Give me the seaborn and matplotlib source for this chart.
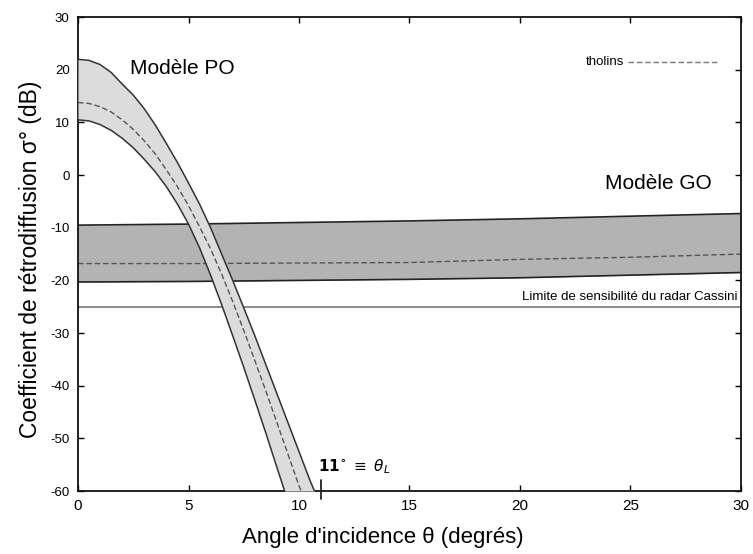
import numpy as np
import pandas as pd
import matplotlib
matplotlib.use("Agg")
import matplotlib.pyplot as plt
import seaborn as sns

# PO model band: incidence angle (degrees) -> backscatter (dB)
po_theta = [0, 0.5, 1, 1.5, 2, 2.5, 3, 3.5, 4, 4.5, 5, 5.5, 6, 6.5, 7, 7.5,
            8, 8.5, 9, 9.5, 10, 10.5, 10.7]
po_upper = [22.0, 21.8, 21.0, 19.5, 17.3, 15.2, 12.6, 9.5, 6.0, 2.4, -1.5, -5.5,
            -10.0, -15.0, -20.0, -25.2, -30.5, -36.0, -41.5, -47.0, -52.5, -58.0, -60.0]
po_mid_theta = [0, 0.5, 1, 1.5, 2, 2.5, 3, 3.5, 4, 4.5, 5, 5.5, 6, 6.5, 7, 7.5,
                8, 8.5, 9, 9.5, 10, 10.1]
po_mid = [13.8, 13.6, 13.0, 12.0, 10.5, 8.7, 6.5, 4.0, 1.0, -2.2, -5.8, -9.8,
          -14.0, -18.8, -24.0, -29.5, -35.2, -41.0, -47.0, -53.0, -59.0, -60.0]
po_lower_theta = [0, 0.5, 1, 1.5, 2, 2.5, 3, 3.5, 4, 4.5, 5, 5.5, 6, 6.5, 7, 7.5,
                  8, 8.5, 9, 9.35]
po_lower = [10.5, 10.3, 9.6, 8.5, 7.0, 5.2, 3.0, 0.6, -2.2, -5.5, -9.3, -13.8,
            -19.0, -24.6, -30.5, -36.5, -42.7, -49.0, -55.5, -60.0]

# GO model band
go_theta = [0, 5, 10, 15, 20, 25, 30]
go_upper = [-9.5, -9.3, -9.0, -8.7, -8.3, -7.8, -7.3]
go_mid = [-16.8, -16.8, -16.7, -16.6, -16.0, -15.6, -15.0]
go_lower = [-20.3, -20.2, -20.0, -19.8, -19.5, -19.0, -18.5]

cassini_limit = -25.0
theta_L = 11

x_ticks = [0, 5, 10, 15, 20, 25, 30]
y_ticks = [-60, -50, -40, -30, -20, -10, 0, 10, 20, 30]

sns.set_theme(style="ticks")
plt.rcParams["font.family"] = ["Liberation Sans", "DejaVu Sans"]
plt.rcParams["axes.unicode_minus"] = False
plt.rcParams["text.color"] = "black"
plt.rcParams["axes.labelcolor"] = "black"
plt.rcParams["xtick.color"] = "black"
plt.rcParams["ytick.color"] = "black"

fig = plt.figure(figsize=(7.53, 5.54), dpi=100)
ax = fig.add_axes([0.1036, 0.1137, 0.8804, 0.8553])

# GO band
ax.fill_between(go_theta, go_lower, go_upper, color="#b3b3b3", lw=0, zorder=1)
go = pd.DataFrame({"theta": go_theta, "up": go_upper, "mid": go_mid, "low": go_lower})
sns.lineplot(data=go, x="theta", y="up", ax=ax, color="#222222", lw=1.2, zorder=2)
sns.lineplot(data=go, x="theta", y="low", ax=ax, color="#222222", lw=1.2, zorder=2)
sns.lineplot(data=go, x="theta", y="mid", ax=ax, color="#555555", lw=1.0,
             linestyle=(0, (4, 2)), zorder=2)

# Cassini sensitivity limit
ax.axhline(cassini_limit, color="#777777", lw=1.2, zorder=2)

# PO band, shaded between the upper and lower curves
grid = np.linspace(0, max(po_theta), 400)
up_i = np.interp(grid, po_theta, po_upper)
low_i = np.interp(grid, po_lower_theta, po_lower, right=-60.0)
ax.fill_between(grid, low_i, up_i, color="#dcdcdc", lw=0, zorder=3)
sns.lineplot(x=po_theta, y=po_upper, ax=ax, color="#333333", lw=1.1, zorder=4)
sns.lineplot(x=po_lower_theta, y=po_lower, ax=ax, color="#333333", lw=1.1, zorder=4)
sns.lineplot(x=po_mid_theta, y=po_mid, ax=ax, color="#555555", lw=1.0,
             linestyle=(0, (4, 2)), zorder=4)

# Legend entry
ax.plot([24.9, 28.9], [21.5, 21.5], color="#777777", lw=1.0, linestyle=(0, (4, 2)))
ax.text(24.7, 21.5, "tholins", ha="right", va="center", fontsize=9.5)

# theta_L marker
ax.plot([theta_L, theta_L], [-61.5, -58.0], color="#222222", lw=1.3, clip_on=False, zorder=5)
ax.text(10.85, -55.3, r"$\mathbf{11^{\circ}}$ $\equiv$ $\theta_L$", fontsize=11,
        ha="left", va="center")

ax.text(2.35, 20.3, "Modèle PO", fontsize=15, ha="left", va="center")
ax.text(28.7, -1.5, "Modèle GO", fontsize=15, ha="right", va="center")
ax.text(29.85, -23.1, "Limite de sensibilité du radar Cassini", fontsize=9.5,
        ha="right", va="center")

ax.set_xlim(0, 30)
ax.set_ylim(-60, 30)
ax.set_xticks(x_ticks)
ax.set_yticks(y_ticks)
ax.tick_params(direction="in", top=True, right=True, length=4, width=1)
ax.tick_params(axis="x", labelsize=11, pad=6)
ax.tick_params(axis="y", labelsize=9.5, pad=6)
for s in ax.spines.values():
    s.set_linewidth(1.3)
    s.set_color("#111111")

ax.set_xlabel("Angle d'incidence θ (degrés)", fontsize=16)
ax.set_ylabel("Coefficient de rétrodiffusion σ° (dB)", fontsize=16.5)
ax.xaxis.set_label_coords((383 - 78) / 663, -0.075)
ax.yaxis.set_label_coords(-0.055, 0.49)

fig.savefig("out.png", dpi=100)
